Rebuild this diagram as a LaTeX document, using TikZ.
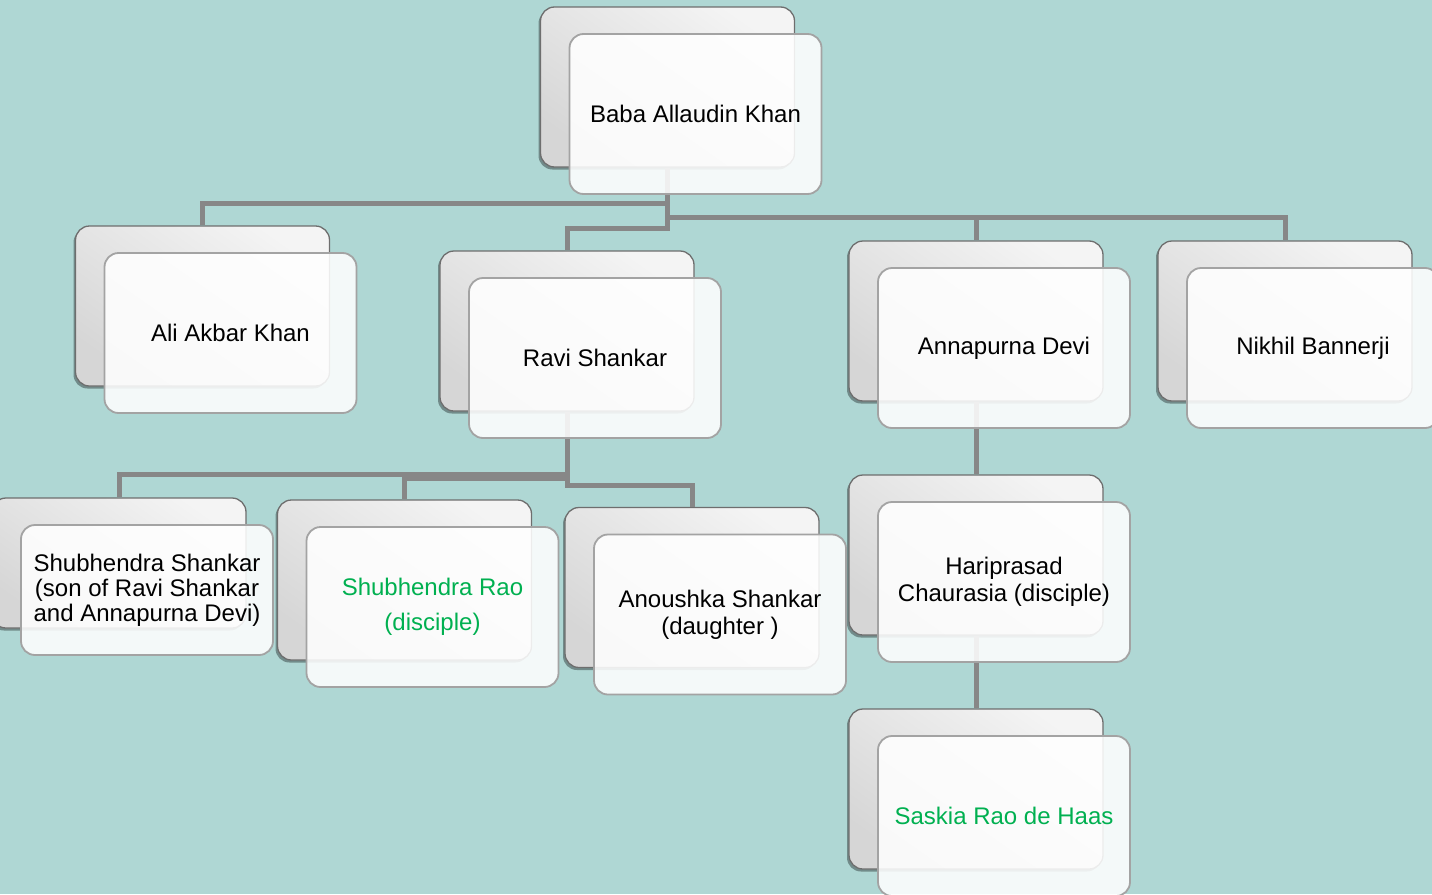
\documentclass[tikz,border=0pt]{standalone}
\usepackage{fontspec}
\setmainfont{Liberation Sans}
\usetikzlibrary{shadows,calc}
\definecolor{bg}{HTML}{AFD7D4}
\definecolor{backline}{HTML}{6E6E6E}
\definecolor{frontline}{HTML}{A3A3A3}
\definecolor{connc}{HTML}{878787}
\definecolor{backtop}{HTML}{F4F4F4}
\definecolor{backbot}{HTML}{D6D6D6}
\definecolor{green}{HTML}{00B050}
\begin{document}
\begin{tikzpicture}[x=1pt,y=-1pt,
  backbox/.style={draw=backline, line width=1.3pt, rounded corners=14pt,
    minimum width=254pt, minimum height=160pt, inner sep=0pt,
    top color=backtop, bottom color=backbot, shading angle=-35,
    drop shadow={shadow xshift=-2pt, shadow yshift=-2.5pt, opacity=0.35, fill=black}},
  frontbox/.style={draw=frontline, line width=1.8pt, rounded corners=14pt,
    minimum width=252pt, minimum height=160pt, inner sep=0pt,
    fill=white, fill opacity=0.87, text opacity=1, align=center,
    font=\fontsize{24}{26.5}\selectfont},
  conn/.style={draw=connc, line width=5pt}]
\useasboundingbox (0,0) rectangle (1432,894);
\fill[bg] (0,0) rectangle (1432,894);
\clip (0,0) rectangle (1432,894);
% back boxes
\node[backbox] (baba) at (667.5,87) {};
\node[backbox] (ali) at (202.5,306) {};
\node[backbox] (ravi) at (567,331) {};
\node[backbox] (anna) at (976,321) {};
\node[backbox] (nikhil) at (1285,321) {};
\node[backbox,minimum height=130pt] (shubs) at (119,563) {};
\node[backbox] (rao) at (404.5,580) {};
\node[backbox] (anou) at (692,587.5) {};
\node[backbox] (hari) at (976,555) {};
\node[backbox] (saskia) at (976,789) {};
% connectors
\draw[conn] (baba.south) -- ++(0,36) -| (ali.north);
\draw[conn] (baba.south) -- ++(0,61) -| (ravi.north);
\draw[conn] (baba.south) -- ++(0,50) -| (anna.north);
\draw[conn] (baba.south) -- ++(0,50) -| (nikhil.north);
\draw[conn] (ravi.south) -- ++(0,63) -| (shubs.north);
\draw[conn] (ravi.south) -- ++(0,67) -| (rao.north);
\draw[conn] (ravi.south) -- ++(0,74) -| (anou.north);
\draw[conn] (anna.south) -- (hari.north);
\draw[conn] (hari.south) -- (saskia.north);
% front boxes
\node[frontbox] (babaF) at ($(baba.center)+(28,27)$) {Baba Allaudin Khan};
\node[frontbox] (aliF) at ($(ali.center)+(28,27)$) {Ali Akbar Khan};
\node[frontbox] (raviF) at ($(ravi.center)+(28,27)$) {Ravi Shankar};
\node[frontbox] (annaF) at ($(anna.center)+(28,27)$) {Annapurna Devi};
\node[frontbox] (nikhilF) at ($(nikhil.center)+(28,27)$) {Nikhil Bannerji};
\node[frontbox,minimum height=130pt,font=\fontsize{24}{25}\selectfont] (shubsF) at ($(shubs.center)+(28,27)$) {Shubhendra Shankar\\(son of Ravi Shankar\\and Annapurna Devi)};
\node[frontbox,text=green,font=\fontsize{24}{35}\selectfont] (raoF) at ($(rao.center)+(28,27)$) {Shubhendra Rao\\(disciple)};
\node[frontbox,font=\fontsize{24}{27}\selectfont] (anouF) at ($(anou.center)+(28,27)$) {Anoushka Shankar\\(daughter )};
\node[frontbox] (hariF) at ($(hari.center)+(28,27)$) {Hariprasad\\Chaurasia (disciple)};
\node[frontbox,text=green] (saskiaF) at ($(saskia.center)+(28,27)$) {Saskia Rao de Haas};
\end{tikzpicture}
\end{document}
